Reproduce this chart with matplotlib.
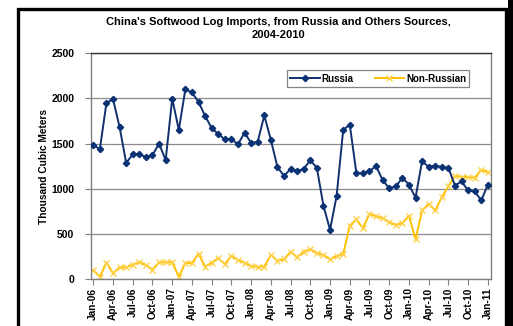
import matplotlib.pyplot as plt
import matplotlib.patches as mpatches
import pandas as pd

# Monthly softwood log imports (thousand cubic meters), Jan-06 .. Jan-11
months = list(pd.date_range('2006-01-01', '2011-01-01', freq='MS').strftime('%b-%y'))

russia = [1480, 1440, 1950, 1990, 1680, 1285, 1380, 1380, 1350, 1370,
          1500, 1315, 1997, 1650, 2100, 2065, 1960, 1805, 1670, 1605,
          1545, 1550, 1490, 1620, 1505, 1520, 1810, 1540, 1240, 1140,
          1220, 1195, 1220, 1315, 1230, 810, 545, 920, 1650, 1710,
          1175, 1170, 1195, 1250, 1095, 1005, 1025, 1120, 1045, 900,
          1305, 1240, 1255, 1240, 1230, 1035, 1080, 980, 970, 870,
          1045]

non_russian = [95, 26, 183, 63, 130, 130, 160, 188, 155, 105,
               185, 185, 185, 26, 180, 175, 280, 137, 181, 230,
               167, 256, 211, 181, 144, 137, 137, 267, 204, 219,
               300, 241, 304, 330, 285, 267, 219, 256, 278, 589,
               660, 563, 722, 693, 674, 626, 600, 619, 700, 441,
               759, 830, 759, 907, 1026, 1144, 1130, 1130, 1119, 1211,
               1181]

plt.rcParams['font.family'] = ['Liberation Sans', 'DejaVu Sans']
plt.rcParams['font.weight'] = 'bold'

fig = plt.figure(figsize=(5.13, 3.26), dpi=100)
ax = fig.add_axes([0.1774, 0.144, 0.78, 0.693])

x = list(range(len(months)))
ax.plot(x, russia, '-', color='#10306e', lw=1.4, marker='D', ms=3.2,
        mfc='#0b3275', mec='#0b3275', label='Russia', zorder=3)
ax.plot(x, non_russian, '-', color='#ffc000', lw=1.4, marker='x', ms=5,
        mec='#ffd24d', mew=1.0, label='Non-Russian', zorder=2)

ax.set_xlim(-0.35, 60.5)
ax.set_ylim(0, 2500)
ax.set_yticks(range(0, 2501, 500))
ax.set_xticks(x[::3])
ax.set_xticklabels(months[::3], rotation=90, fontsize=7.3, fontweight='bold')
ax.tick_params(axis='y', labelsize=7.5, length=4, color='#808080', pad=8)
ax.tick_params(axis='x', length=4, color='#808080', pad=2)
for lbl in ax.get_yticklabels():
    lbl.set_fontweight('bold')

ax.grid(axis='y', color='#8c8c8c', lw=0.9)
ax.set_axisbelow(True)
for side in ['left', 'bottom', 'right']:
    ax.spines[side].set_color('#808080')
    ax.spines[side].set_linewidth(1.0)
ax.spines['top'].set_color('#333333')
ax.spines['top'].set_linewidth(1.0)

ax.set_ylabel('Thousand Cubic Meters', fontsize=7.3, fontweight='bold', labelpad=2)

fig.text(0.542, 0.912, "China's Softwood Log Imports, from Russia and Others Sources,\n2004-2010",
         ha='center', va='center', fontsize=8, fontweight='bold', linespacing=1.4)

leg = ax.legend(loc='upper right', bbox_to_anchor=(0.958, 0.945), ncol=2,
                fontsize=7, frameon=True, fancybox=False, edgecolor='#666666',
                handlelength=3.0, columnspacing=2.2, borderpad=0.35,
                handletextpad=0.2)
leg.get_frame().set_linewidth(0.9)
for t in leg.get_texts():
    t.set_fontweight('bold')

# outer black frame around the chart
frame = mpatches.Rectangle((17.5 / 513, -0.1), (506 - 17.5) / 513, 1.1 - 8.5 / 326,
                           transform=fig.transFigure, fill=False,
                           edgecolor='black', lw=2.4)
fig.patches.append(frame)
edge = mpatches.Rectangle((508 / 513, 0), 5 / 513, 1, transform=fig.transFigure,
                          facecolor='black', edgecolor='none')
fig.patches.append(edge)

fig.savefig('out.png', dpi=100)
